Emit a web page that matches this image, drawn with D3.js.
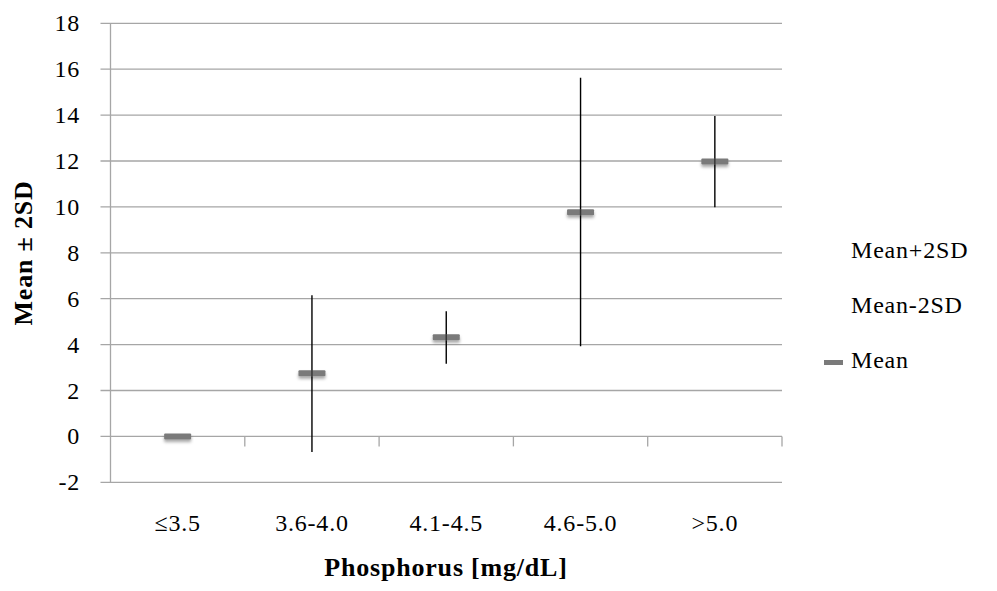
<html>
    <head>
        <script src='https://d3js.org/d3.v7.min.js'></script>
        <style> body {margin: 0; background: white} </style>
    </head>
    <body>
        <svg width=997 height=591></svg>
        <script>
            // chart data
            var categories = ['≤3.5', '3.6-4.0', '4.1-4.5', '4.6-5.0', '>5.0'];
            var meanValues = [0, 2.75, 4.32, 9.77, 11.98];
            var plusTwoSD = [0, 6.15, 5.45, 15.63, 13.96];
            var minusTwoSD = [0, -0.68, 3.17, 3.93, 9.99];
            var yTicks = [-2, 0, 2, 4, 6, 8, 10, 12, 14, 16, 18];
            var legendLabels = ['Mean+2SD', 'Mean-2SD', 'Mean'];

            var plotLeft = 110.5, plotRight = 782, plotTop = 23.3, plotBottom = 482.3;
            var font = 'Liberation Serif, Times New Roman, serif';
            var gridColor = '#a6a6a6';

            var svg = d3.select('svg');

            var x = d3.scaleBand().domain(categories).range([plotLeft, plotRight]);
            var y = d3.scaleLinear().domain([-2, 18]).range([plotBottom, plotTop]);

            // drop shadow for mean markers
            var filter = svg.append('defs').append('filter')
              .attr('id', 'shadow')
              .attr('x', '-50%').attr('y', '-100%')
              .attr('width', '200%').attr('height', '400%');
            filter.append('feDropShadow')
              .attr('dx', 0).attr('dy', 2.5)
              .attr('stdDeviation', 1.8)
              .attr('flood-color', '#000')
              .attr('flood-opacity', 0.35);

            // gridlines + y tick marks
            svg.append('g')
              .selectAll('line')
              .data(yTicks)
              .enter()
              .append('line')
              .attr('x1', plotLeft - 10)
              .attr('x2', plotRight)
              .attr('y1', function (d) { return y(d); })
              .attr('y2', function (d) { return y(d); })
              .style('stroke', gridColor)
              .style('stroke-width', 1.3);

            // y axis line
            svg.append('line')
              .attr('x1', plotLeft).attr('x2', plotLeft)
              .attr('y1', plotTop).attr('y2', plotBottom)
              .style('stroke', gridColor)
              .style('stroke-width', 1.3);

            // y tick labels
            svg.append('g')
              .selectAll('text')
              .data(yTicks)
              .enter()
              .append('text')
              .attr('x', 80)
              .attr('y', function (d) { return y(d) + 8; })
              .attr('text-anchor', 'end')
              .style('font-family', font)
              .style('font-size', '24px')
              .style('letter-spacing', '0.8px')
              .style('fill', '#000')
              .text(function (d) { return d; });

            // category tick marks on the zero line
            var boundaries = categories.map(function (c) { return x(c) + x.bandwidth(); });
            svg.append('g')
              .selectAll('line')
              .data(boundaries)
              .enter()
              .append('line')
              .attr('x1', function (d) { return d; })
              .attr('x2', function (d) { return d; })
              .attr('y1', y(0))
              .attr('y2', y(0) + 10)
              .style('stroke', gridColor)
              .style('stroke-width', 1.3);

            // category labels
            svg.append('g')
              .selectAll('text')
              .data(categories)
              .enter()
              .append('text')
              .attr('x', function (d) { return x(d) + x.bandwidth() / 2; })
              .attr('y', 531)
              .attr('text-anchor', 'middle')
              .style('font-family', font)
              .style('font-size', '24px')
              .style('letter-spacing', '0.8px')
              .style('fill', '#000')
              .text(function (d) { return d; });

            // error bars (mean - 2SD .. mean + 2SD)
            svg.append('g')
              .selectAll('line')
              .data(categories)
              .enter()
              .append('line')
              .attr('x1', function (d) { return x(d) + x.bandwidth() / 2; })
              .attr('x2', function (d) { return x(d) + x.bandwidth() / 2; })
              .attr('y1', function (d, i) { return y(plusTwoSD[i]); })
              .attr('y2', function (d, i) { return y(minusTwoSD[i]); })
              .style('stroke', '#000')
              .style('stroke-width', 1.4);

            // mean markers
            svg.append('g')
              .selectAll('rect')
              .data(categories)
              .enter()
              .append('rect')
              .attr('x', function (d) { return x(d) + x.bandwidth() / 2 - 13.5; })
              .attr('y', function (d, i) { return y(meanValues[i]) - 3; })
              .attr('width', 27)
              .attr('height', 6)
              .attr('rx', 1)
              .attr('filter', 'url(#shadow)')
              .style('fill', '#7a7a7a');

            // error bar showing faintly through the markers
            svg.append('g')
              .selectAll('line')
              .data(categories)
              .enter()
              .append('line')
              .attr('x1', function (d) { return x(d) + x.bandwidth() / 2; })
              .attr('x2', function (d) { return x(d) + x.bandwidth() / 2; })
              .attr('y1', function (d, i) { return y(meanValues[i]) - 3; })
              .attr('y2', function (d, i) { return y(meanValues[i]) + 3; })
              .style('stroke', '#000')
              .style('stroke-width', 1.4)
              .style('opacity', function (d, i) { return plusTwoSD[i] === minusTwoSD[i] ? 0 : 0.6; });

            // axis titles
            svg.append('text')
              .attr('x', 446)
              .attr('y', 576)
              .attr('text-anchor', 'middle')
              .style('font-family', font)
              .style('font-size', '26px')
              .style('letter-spacing', '0.8px')
              .style('font-weight', 'bold')
              .style('fill', '#000')
              .text('Phosphorus [mg/dL]');

            svg.append('text')
              .attr('text-anchor', 'middle')
              .attr('transform', 'translate(32,253)rotate(-90)')
              .style('font-family', font)
              .style('font-size', '26px')
              .style('letter-spacing', '0.8px')
              .style('font-weight', 'bold')
              .style('fill', '#000')
              .text('Mean ± 2SD');

            // legend
            var legend = svg.append('g');
            legend.selectAll('text')
              .data(legendLabels)
              .enter()
              .append('text')
              .attr('x', 851)
              .attr('y', function (d, i) { return 258 + i * 55; })
              .style('font-family', font)
              .style('font-size', '24px')
              .style('letter-spacing', '0.8px')
              .style('fill', '#000')
              .text(function (d) { return d; });

            legend.append('rect')
              .attr('x', 824)
              .attr('y', 258 + 2 * 55 - 8)
              .attr('width', 19)
              .attr('height', 5)
              .style('fill', '#7a7a7a');
        </script>
    </body>
</html>
